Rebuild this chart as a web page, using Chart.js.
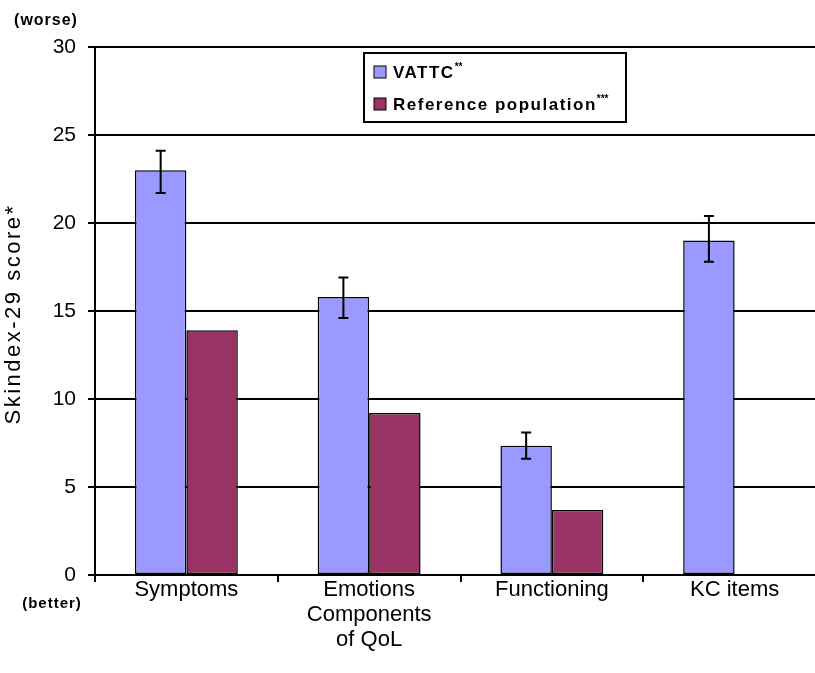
<!DOCTYPE html>
<html>
<head>
<meta charset="utf-8">
<script src="https://cdn.jsdelivr.net/npm/chart.js@4/dist/chart.umd.min.js"></script>
<style>
  html, body { margin: 0; padding: 0; background: #fff; overflow: hidden; }
  #wrap { width: 840px; height: 673px; }
</style>
</head>
<body>
<div id="wrap"><canvas id="chart"></canvas></div>
<script>
// categories and values
const categories = ['Symptoms', ['Emotions', 'Components', 'of QoL'], 'Functioning', 'KC items'];
const vattc = [23.0, 15.8, 7.35, 19.0];
const vattcLow = [21.7, 14.6, 6.6, 17.8];
const vattcHigh = [24.1, 16.9, 8.1, 20.4];
const reference = [13.9, 9.2, 3.7, null];
const yTicks = [0, 5, 10, 15, 20, 25, 30];

const FONT = 'Arial, "Liberation Sans", sans-serif';

// error bars on the VATTC series
const errorBars = {
    id: 'errorBars',
    afterDatasetsDraw(chart) {
        const ctx = chart.ctx;
        const y = chart.scales.y;
        const meta = chart.getDatasetMeta(0);
        ctx.save();
        ctx.strokeStyle = '#000';
        ctx.lineWidth = 2;
        meta.data.forEach((bar, i) => {
            const top = y.getPixelForValue(vattcHigh[i]);
            const bot = y.getPixelForValue(vattcLow[i]);
            ctx.beginPath();
            ctx.moveTo(bar.x, top); ctx.lineTo(bar.x, bot);
            ctx.moveTo(bar.x - 5, top); ctx.lineTo(bar.x + 5, top);
            ctx.moveTo(bar.x - 5, bot); ctx.lineTo(bar.x + 5, bot);
            ctx.stroke();
        });
        ctx.restore();
    }
};

// boxed legend inside the plot + side texts
const extras = {
    id: 'extras',
    afterDraw(chart) {
        const ctx = chart.ctx;
        ctx.save();
        // legend box
        ctx.fillStyle = '#fff';
        ctx.fillRect(364, 53, 262, 69);
        ctx.strokeStyle = '#000';
        ctx.lineWidth = 2;
        ctx.strokeRect(364, 53, 262, 69);
        const items = [
            { label: 'VATTC', stars: '**', y: 72 },
            { label: 'Reference population', stars: '***', y: 104 }
        ];
        items.forEach((it, i) => {
            const ds = chart.data.datasets[i];
            ctx.fillStyle = ds.backgroundColor;
            ctx.fillRect(374, it.y - 6, 12, 12);
            ctx.lineWidth = 1;
            ctx.strokeStyle = '#000';
            ctx.strokeRect(374, it.y - 6, 12, 12);
            ctx.fillStyle = '#000';
            ctx.textBaseline = 'middle';
            ctx.textAlign = 'left';
            ctx.font = 'bold 17px ' + FONT;
            ctx.letterSpacing = '1.5px';
            ctx.fillText(it.label, 393, it.y + 1);
            const w = ctx.measureText(it.label).width;
            ctx.font = 'bold 10px ' + FONT;
            ctx.letterSpacing = '0px';
            ctx.fillText(it.stars, 393 + w, it.y - 5);
        });
        // axis title
        ctx.fillStyle = '#000';
        ctx.font = '22px ' + FONT;
        ctx.letterSpacing = '2.5px';
        ctx.translate(14, 314);
        ctx.rotate(-Math.PI / 2);
        ctx.textAlign = 'center';
        ctx.textBaseline = 'middle';
        ctx.fillText('Skindex-29 score*', 0, 0);
        ctx.setTransform(1, 0, 0, 1, 0, 0);
        ctx.letterSpacing = '1px';
        ctx.font = 'bold 16px ' + FONT;
        ctx.fillText('(worse)', 46, 21);
        ctx.font = 'bold 15px ' + FONT;
        ctx.fillText('(better)', 52, 604);
        ctx.restore();
    }
};

new Chart(document.getElementById('chart'), {
    type: 'bar',
    data: {
        labels: categories,
        datasets: [
            {
                label: 'VATTC**',
                data: vattc,
                backgroundColor: '#9999FF',
                borderColor: '#000',
                borderWidth: 1.5,
                borderSkipped: false,
                barPercentage: 1,
                categoryPercentage: 0.563
            },
            {
                label: 'Reference population***',
                data: reference,
                backgroundColor: '#993366',
                borderColor: '#000',
                borderWidth: 1.5,
                borderSkipped: false,
                barPercentage: 1,
                categoryPercentage: 0.563
            }
        ]
    },
    options: {
        responsive: true,
        maintainAspectRatio: false,
        animation: false,
        layout: { padding: { top: 47, right: 14, left: 0, bottom: 0 } },
        plugins: {
            legend: { display: false },
            tooltip: { enabled: false }
        },
        scales: {
            y: {
                min: 0, max: 30,
                afterBuildTicks: (s) => { s.ticks = yTicks.map(v => ({ value: v })); },
                afterFit: (s) => { s.width = 95; },
                grid: { color: '#000', lineWidth: 2, tickLength: 7 },
                border: { color: '#000', width: 2 },
                ticks: { color: '#000', padding: 12, font: { family: FONT, size: 21 } }
            },
            x: {
                afterFit: (s) => { s.height = 98; },
                grid: { drawOnChartArea: false, color: '#000', lineWidth: 2, tickLength: 7, offset: true },
                border: { color: '#000', width: 2 },
                ticks: { color: '#000', padding: -5, font: { family: FONT, size: 22, lineHeight: 1.15 } }
            }
        }
    },
    plugins: [errorBars, extras]
});
</script>
</body>
</html>
